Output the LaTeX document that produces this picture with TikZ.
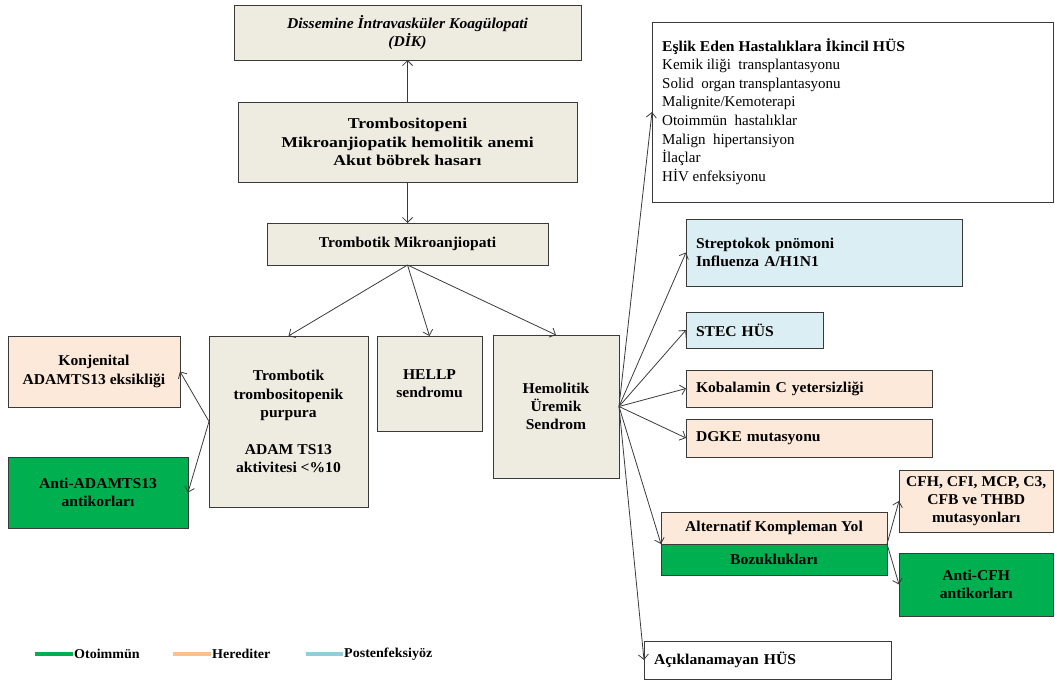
\documentclass[tikz,border=0pt]{standalone}
\usepackage{fontspec}
\setmainfont{Liberation Serif}[BoldFeatures={FakeStretch=1.04},BoldItalicFeatures={FakeStretch=1.04}]
\newfontfamily\wideserif{Liberation Serif}[FakeStretch=1.18]
\usetikzlibrary{arrows.meta}
\definecolor{beige}{HTML}{EEECE1}
\definecolor{peach}{HTML}{FDE9D9}
\definecolor{skyfill}{HTML}{DBEEF3}
\definecolor{autogreen}{HTML}{00B050}
\definecolor{heredline}{HTML}{FAC090}
\definecolor{postline}{HTML}{92CDDC}
\definecolor{edge}{HTML}{3A3A3A}
\tikzset{
  box/.style={draw=edge, line width=0.9pt, inner sep=0pt, outer sep=0pt,
    font=\fontsize{15}{18.3}\selectfont\bfseries, align=center},
  leftbox/.style={box, align=left, inner xsep=10pt},
  conn/.style={draw=edge, line width=0.8pt, -{Straight Barb[length=5pt,width=10pt]}},
  legendline/.style={line width=3.5pt},
  legendtext/.style={font=\fontsize{13.5}{16}\selectfont\bfseries, anchor=west, inner sep=1pt}
}
\begin{document}
\begin{tikzpicture}[x=1pt,y=-1pt]
\useasboundingbox (0,0) rectangle (1055,682);

% central column
\node[box, fill=beige, minimum width=347pt, minimum height=55pt] (dik) at (407.5,32.5)
  {\itshape Dissemine İntravasküler Koagülopati\\\itshape (DİK)};
\node[box, fill=beige, minimum width=339pt, minimum height=80pt,
  font=\fontsize{15}{18.3}\wideserif\bfseries] (tromb) at (407.5,142)
  {Trombositopeni\\Mikroanjiopatik hemolitik anemi\\Akut böbrek hasarı};
\node[box, fill=beige, minimum width=281pt, minimum height=42pt] (tma) at (407.5,244)
  {Trombotik Mikroanjiopati};

% second level
\node[box, fill=beige, minimum width=159pt, minimum height=171pt] (ttp) at (288.5,421.5)
  {Trombotik\\trombositopenik\\purpura\\[18.3pt]ADAM TS13\\aktivitesi <\%10};
\node[box, fill=beige, minimum width=105pt, minimum height=95pt] (hellp) at (429.5,383.5)
  {HELLP\\sendromu};
\node[box, fill=beige, minimum width=126pt, minimum height=143pt] (hus) at (556,406.5)
  {Hemolitik\\Üremik\\Sendrom};

% TTP causes
\node[box, fill=peach, minimum width=172pt, minimum height=71pt] (konj) at (94,371.5)
  {Konjenital\\ADAMTS13 eksikliği};
\node[box, fill=autogreen, minimum width=180pt, minimum height=71pt] (antiadam) at (98,492.5)
  {Anti-ADAMTS13\\antikorları};

% HUS causes
\node[box, minimum width=401.5pt, minimum height=180pt] (eslik) at (852.75,112) {};
\node[anchor=north west, inner sep=0pt, align=left,
  font=\fontsize{15}{18.6}\selectfont] (eslikt) at (662,38)
  {\textbf{Eşlik Eden Hastalıklara İkincil HÜS}\\
   Kemik iliği\ \ transplantasyonu\\
   Solid\ \ organ transplantasyonu\\
   Malignite/Kemoterapi\\
   Otoimmün\ \ hastalıklar\\
   Malign\ \ hipertansiyon\\
   İlaçlar\\
   HİV enfeksiyonu};
\node[leftbox, fill=skyfill, text width=256pt, minimum height=67pt] (strep) at (824,252.5)
  {Streptokok pnömoni\\Influenza A/H1N1};
\node[leftbox, fill=skyfill, text width=117pt, minimum height=36pt] (stec) at (754.5,330)
  {STEC HÜS};
\node[leftbox, fill=peach, text width=226pt, minimum height=37pt] (kob) at (809,388.5)
  {Kobalamin C yetersizliği};
\node[leftbox, fill=peach, text width=226pt, minimum height=38pt] (dgke) at (809,438)
  {DGKE mutasyonu};
\node[box, fill=peach, minimum width=226pt, minimum height=32pt] (altA) at (774,528)
  {Alternatif Kompleman Yol};
\node[box, fill=autogreen, minimum width=226pt, minimum height=31pt] (altB) at (774,559.5)
  {Bozuklukları};
\node[box, fill=peach, minimum width=154.5pt, minimum height=62pt] (cfh) at (976.25,501)
  {CFH, CFI, MCP, C3,\\CFB ve THBD\\mutasyonları};
\node[box, fill=autogreen, minimum width=154.5pt, minimum height=63pt] (anticfh) at (976.25,584.5)
  {Anti-CFH\\antikorları};
\node[leftbox, text width=227pt, minimum height=38pt] (acik) at (767.5,660)
  {Açıklanamayan HÜS};

% connectors
\draw[conn] (tromb.north) -- (dik.south);
\draw[conn] (tromb.south) -- (tma.north);
\draw[conn] (tma.south) -- (ttp.north);
\draw[conn] (tma.south) -- (hellp.north);
\draw[conn] (tma.south) -- (hus.north);
\draw[conn] (ttp.west) -- (konj.east);
\draw[conn] (ttp.west) -- (antiadam.east);
\draw[conn] (hus.east) -- (eslik.west);
\draw[conn] (hus.east) -- (strep.west);
\draw[conn] (hus.east) -- (stec.west);
\draw[conn] (hus.east) -- (kob.west);
\draw[conn] (hus.east) -- (dgke.west);
\draw[conn] (hus.east) -- (altA.south west);
\draw[conn] (hus.east) -- (acik.west);
\draw[conn] (altA.south east) -- (cfh.west);
\draw[conn] (altA.south east) -- (anticfh.west);

% legend
\coordinate (l1a) at (35,654); \coordinate (l1b) at (73,654);
\coordinate (l2a) at (173,654); \coordinate (l2b) at (211,654);
\coordinate (l3a) at (306,654); \coordinate (l3b) at (343,654);
\draw[legendline, autogreen] (l1a) -- (l1b);
\node[legendtext] (leg1) at (l1b) {Otoimmün};
\draw[legendline, heredline] (l2a) -- (l2b);
\node[legendtext] (leg2) at (l2b) {Herediter};
\draw[legendline, postline] (l3a) -- (l3b);
\node[legendtext] (leg3) at (l3b) {Postenfeksiyöz};
\end{tikzpicture}
\end{document}
